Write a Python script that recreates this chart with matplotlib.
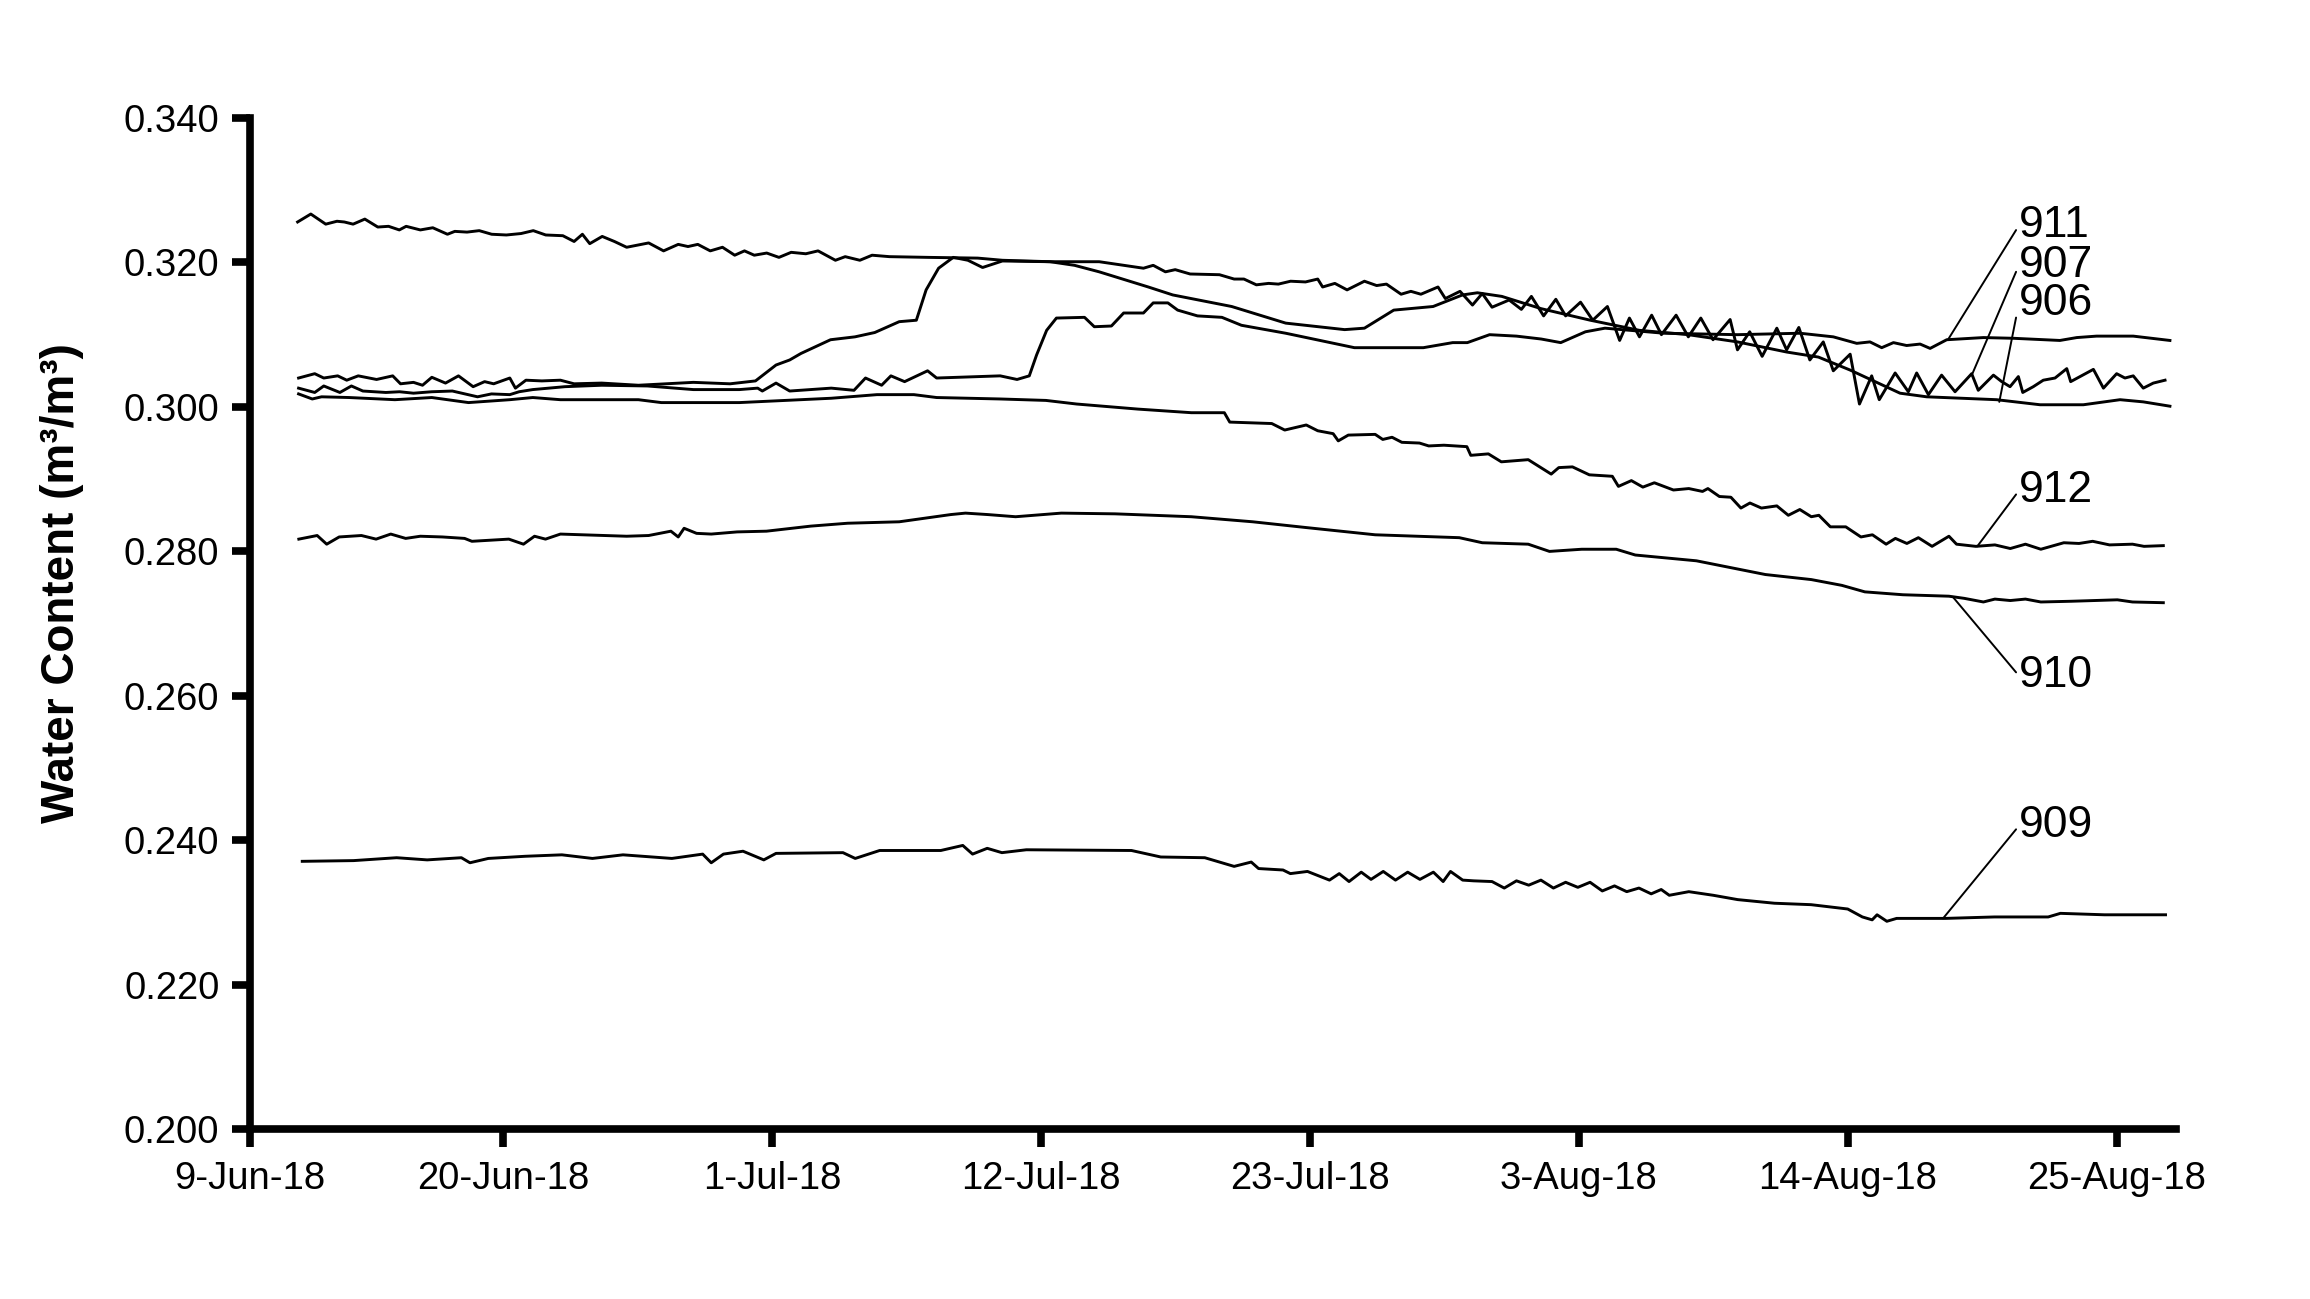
import numpy as np
import matplotlib
matplotlib.use("Agg")
import matplotlib.pyplot as plt
from matplotlib.ticker import FormatStrFormatter

plt.rcParams['font.family'] = ['Liberation Sans', 'DejaVu Sans']

# days counted from 9-Jun-18, water content in m3/m3 x 1000
day907 = [2.59, 3.13, 3.74, 4.20, 4.50, 4.86, 5.34, 5.87, 6.31, 6.75, 7.03, 7.61, 8.12, 8.72, 9.02, 9.52,
          10.02, 10.53, 11.13, 11.73, 12.23, 12.74, 13.44, 13.90, 14.24, 14.54, 15.05, 15.55, 16.05, 16.95,
          17.56, 18.16, 18.56, 18.96, 19.47, 19.97, 20.47, 20.87, 21.27, 21.78, 22.28, 22.78, 23.38, 23.88,
          24.59, 24.99, 25.59, 26.09, 26.80, 28.40, 30.41, 31.42, 33.37, 35.38, 37.19, 37.59, 38.09, 38.49,
          39.10, 40.30, 40.90, 41.30, 41.81, 42.31, 42.71, 43.21, 43.82, 44.32, 44.52, 45.02, 45.52, 46.23,
          46.73, 47.13, 47.73, 48.13, 48.54, 49.24, 49.54, 50.14, 50.65, 51.05, 51.45, 52.15, 52.65, 53.06,
          53.56, 54.06, 54.46, 55.07, 55.57, 56.17, 56.67, 57.07, 57.48, 57.98, 58.38, 58.98, 59.48, 59.99,
          60.49, 61.19, 61.49, 61.99, 62.50, 63.10, 63.50, 64.00, 64.45, 65.00, 65.41, 66.10, 66.48, 66.98,
          67.29, 67.94, 68.48, 68.82, 69.30, 69.84, 70.39, 71.07, 71.34, 71.96, 72.30, 72.64, 72.98, 73.16,
          73.59, 74.00, 74.48, 74.96, 75.12, 75.50, 76.05, 76.46, 77.00, 77.34, 77.68, 78.09, 78.50, 78.98]
wc907 = [325.6, 326.7, 325.3, 325.7, 325.6, 325.3, 326.0, 324.9, 325.0, 324.5, 325.0, 324.5, 324.8, 323.9, 324.3, 324.2,
         324.4, 323.9, 323.8, 324.0, 324.4, 323.8, 323.7, 322.9, 323.9, 322.6, 323.6, 322.9, 322.1, 322.7,
         321.6, 322.5, 322.2, 322.5, 321.6, 322.1, 321.0, 321.6, 321.0, 321.3, 320.7, 321.4, 321.2, 321.6,
         320.3, 320.8, 320.3, 321.0, 320.8, 320.7, 320.6, 320.3, 320.1, 320.1, 319.2, 319.6, 318.7, 319.0,
         318.4, 318.3, 317.7, 317.7, 316.9, 317.1, 317.0, 317.4, 317.3, 317.7, 316.6, 317.1, 316.2, 317.4,
         316.8, 317.0, 315.6, 316.0, 315.6, 316.6, 315.0, 316.0, 314.1, 315.7, 313.8, 314.8, 313.5, 315.3,
         312.6, 314.9, 312.6, 314.5, 312.0, 313.9, 309.2, 312.3, 309.7, 312.7, 310.0, 312.7, 309.7, 312.3,
         309.3, 312.1, 307.9, 310.4, 307.0, 310.9, 307.9, 311.0, 306.5, 309.0, 305.0, 307.3, 300.4, 304.3,
         301.0, 304.7, 302.1, 304.7, 301.7, 304.4, 302.1, 304.6, 302.3, 304.4, 303.5, 302.8, 304.2, 302.0,
         302.8, 303.7, 304.0, 305.3, 303.5, 304.2, 305.2, 302.6, 304.6, 304.0, 304.3, 302.6, 303.3, 303.7]

day906 = [2.63, 3.29, 3.66, 4.23, 4.60, 5.07, 5.82, 6.48, 6.80, 7.33, 7.70, 8.08, 8.64, 9.17, 9.77, 10.24,
          10.61, 11.27, 11.50, 11.93, 12.58, 13.34, 13.90, 15.03, 16.53, 18.78, 20.28, 21.32, 22.16, 22.72,
          23.18, 24.39, 25.39, 26.20, 27.20, 27.90, 28.30, 28.81, 29.41, 30.01, 30.61, 31.42, 33.37, 34.37,
          35.38, 37.39, 38.39, 40.80, 43.01, 45.42, 46.23, 47.43, 49.04, 50.24, 50.85, 51.85, 53.46, 55.47,
          57.48, 59.48, 61.49, 63.50, 64.80, 66.10, 68.14, 69.23, 72.09, 73.87, 75.64, 77.14, 78.09, 79.18]
wc906 = [304.0, 304.6, 304.0, 304.3, 303.7, 304.3, 303.8, 304.3, 303.2, 303.4, 303.0, 304.1, 303.3, 304.3, 302.8, 303.5,
         303.2, 304.0, 302.6, 303.7, 303.6, 303.7, 303.2, 303.3, 303.0, 303.4, 303.2, 303.6, 305.8, 306.5,
         307.4, 309.3, 309.7, 310.3, 311.8, 312.0, 316.2, 319.2, 320.7, 320.3, 319.3, 320.2, 320.1, 319.6,
         318.7, 316.6, 315.5, 313.9, 311.6, 310.7, 310.9, 313.4, 313.9, 315.5, 315.8, 315.3, 313.6, 312.0,
         310.6, 310.0, 309.0, 307.6, 306.9, 305.1, 301.9, 301.4, 301.0, 300.3, 300.3, 301.0, 300.7, 300.1]

day911 = [2.63, 3.29, 3.66, 4.32, 4.79, 5.26, 6.20, 6.76, 7.33, 8.08, 8.92, 9.95, 10.52, 11.27, 11.65, 12.21,
          13.52, 15.03, 16.90, 18.78, 20.66, 21.41, 21.60, 22.16, 22.72, 24.42, 25.35, 25.82, 26.48, 26.86,
          27.42, 28.36, 28.73, 31.33, 32.02, 32.52, 32.82, 33.23, 33.63, 34.78, 35.18, 35.88, 36.38, 37.19,
          37.59, 38.19, 38.59, 39.40, 40.40, 41.20, 43.01, 45.82, 48.64, 49.84, 50.44, 51.35, 52.45, 53.46,
          54.26, 55.27, 56.07, 58.48, 61.49, 64.05, 65.41, 66.37, 66.91, 67.39, 67.87, 68.41, 68.96, 69.37,
          70.05, 71.55, 72.78, 74.68, 75.37, 76.18, 77.68, 79.18]
wc911 = [302.6, 302.0, 302.9, 302.0, 302.9, 302.2, 302.0, 302.1, 301.9, 302.1, 302.2, 301.4, 301.8, 301.7, 302.1, 302.4,
         302.8, 303.0, 302.9, 302.4, 302.4, 302.6, 302.2, 303.3, 302.2, 302.6, 302.3, 304.0, 303.0, 304.3,
         303.5, 305.0, 304.0, 304.3, 303.8, 304.3, 307.2, 310.6, 312.3, 312.4, 311.1, 311.2, 313.0, 313.0,
         314.4, 314.4, 313.4, 312.6, 312.4, 311.3, 310.2, 308.2, 308.2, 308.9, 308.9, 310.0, 309.8, 309.4,
         308.9, 310.4, 310.9, 310.2, 310.0, 310.2, 309.7, 308.8, 309.0, 308.2, 308.9, 308.5, 308.7, 308.1,
         309.3, 309.6, 309.5, 309.2, 309.6, 309.8, 309.8, 309.2]

day912 = [2.63, 3.19, 3.57, 4.70, 6.57, 8.08, 9.58, 11.27, 12.21, 13.34, 16.53, 17.47, 20.66, 24.42, 26.29, 27.80,
          28.73, 31.33, 33.20, 34.46, 36.96, 39.15, 40.50, 40.72, 42.44, 42.97, 43.85, 44.32, 44.95, 45.16,
          45.57, 46.67, 46.98, 47.36, 47.76, 48.48, 48.86, 49.48, 50.42, 50.58, 51.30, 51.83, 52.93, 53.87,
          54.18, 54.74, 55.43, 56.37, 56.62, 57.15, 57.62, 58.09, 58.87, 59.50, 60.06, 60.28, 60.75, 61.22,
          61.63, 62.00, 62.47, 63.10, 63.57, 64.04, 64.51, 64.82, 65.29, 65.92, 66.54, 67.01, 67.57, 67.95,
          68.42, 68.89, 69.45, 70.14, 70.45, 71.24, 72.02, 72.65, 73.27, 73.90, 74.84, 75.46, 76.02, 76.71,
          77.65, 78.12, 78.91]
wc912 = [301.8, 301.1, 301.4, 301.3, 301.0, 301.3, 300.6, 301.0, 301.3, 301.0, 301.0, 300.6, 300.6, 301.2, 301.7, 301.7,
         301.3, 301.1, 300.9, 300.4, 299.7, 299.2, 299.2, 297.9, 297.7, 296.8, 297.5, 296.7, 296.3, 295.3,
         296.1, 296.2, 295.5, 295.8, 295.1, 295.0, 294.6, 294.7, 294.5, 293.3, 293.5, 292.4, 292.7, 290.7,
         291.6, 291.7, 290.6, 290.4, 289.0, 289.8, 288.9, 289.5, 288.5, 288.7, 288.3, 288.7, 287.6, 287.5,
         286.0, 286.7, 286.0, 286.3, 285.0, 285.8, 284.8, 285.0, 283.4, 283.4, 282.0, 282.3, 281.0, 281.8,
         281.1, 281.9, 280.7, 282.1, 281.0, 280.7, 280.9, 280.4, 281.0, 280.3, 281.2, 281.1, 281.4, 280.9,
         281.0, 280.7, 280.8]

day910 = [2.64, 3.39, 3.78, 4.29, 5.20, 5.80, 6.40, 7.01, 7.61, 8.51, 9.42, 9.72, 11.23, 11.83, 12.28, 12.73,
          13.34, 16.05, 16.95, 17.86, 18.16, 18.40, 18.91, 19.51, 20.57, 21.77, 23.58, 25.09, 27.20, 29.31,
          29.91, 30.82, 31.96, 33.83, 36.03, 39.15, 41.66, 43.85, 46.67, 50.11, 51.05, 52.93, 53.80, 55.12,
          56.53, 57.31, 59.81, 62.63, 64.51, 65.76, 66.70, 68.26, 70.14, 70.77, 71.55, 72.02, 72.65, 73.27,
          73.90, 75.15, 77.03, 77.65, 78.91]
wc910 = [281.7, 282.2, 281.0, 282.0, 282.2, 281.7, 282.4, 281.8, 282.1, 282.0, 281.8, 281.4, 281.7, 281.0, 282.1, 281.7,
         282.4, 282.1, 282.2, 282.8, 282.0, 283.2, 282.5, 282.4, 282.7, 282.8, 283.5, 283.9, 284.1, 285.1,
         285.3, 285.1, 284.8, 285.3, 285.2, 284.8, 284.1, 283.3, 282.3, 281.9, 281.2, 281.0, 280.0, 280.3,
         280.3, 279.5, 278.7, 276.8, 276.1, 275.3, 274.4, 274.0, 273.8, 273.5, 273.0, 273.4, 273.2, 273.4,
         273.0, 273.1, 273.3, 273.0, 272.9]

day909 = [2.78, 4.88, 6.64, 7.89, 9.29, 9.64, 10.39, 11.90, 13.40, 14.65, 15.90, 17.90, 19.16, 19.51, 20.01, 20.81,
          21.66, 22.16, 24.90, 25.40, 26.40, 28.90, 29.80, 30.20, 30.80, 31.40, 32.40, 36.70, 37.90, 39.70,
          40.90, 41.60, 41.90, 42.90, 43.20, 43.90, 44.80, 45.20, 45.60, 46.10, 46.50, 47.00, 47.50, 48.00,
          48.50, 49.05, 49.45, 49.75, 50.25, 50.70, 51.45, 51.95, 52.45, 52.95, 53.45, 53.96, 54.46, 54.96,
          55.46, 55.96, 56.46, 56.96, 57.46, 57.96, 58.37, 58.70, 59.50, 60.50, 61.50, 63.00, 64.50, 66.00,
          66.60, 67.00, 67.20, 67.60, 68.00, 70.00, 72.00, 74.20, 74.70, 76.50, 79.00]
wc909 = [237.1, 237.2, 237.6, 237.3, 237.6, 236.9, 237.5, 237.8, 238.0, 237.5, 238.0, 237.5, 238.1, 236.9, 238.1, 238.5,
         237.3, 238.2, 238.3, 237.5, 238.6, 238.6, 239.3, 238.1, 238.9, 238.3, 238.7, 238.6, 237.7, 237.6,
         236.4, 237.0, 236.1, 235.9, 235.4, 235.7, 234.5, 235.4, 234.3, 235.6, 234.6, 235.7, 234.5, 235.6,
         234.6, 235.6, 234.3, 235.7, 234.5, 234.4, 234.3, 233.4, 234.4, 233.8, 234.5, 233.4, 234.2, 233.5,
         234.2, 233.0, 233.7, 232.9, 233.4, 232.6, 233.2, 232.4, 232.9, 232.4, 231.8, 231.3, 231.1, 230.5,
         229.4, 229.0, 229.7, 228.8, 229.2, 229.2, 229.4, 229.4, 229.9, 229.7, 229.7]

series_days = [day907, day906, day911, day912, day910, day909]
series_wc = [wc907, wc906, wc911, wc912, wc910, wc909]

# sensor labels and their leader lines
labels = ['911', '907', '906', '912', '910', '909']
label_day = [73.0, 73.0, 73.0, 73.0, 73.0, 73.0]
label_wc = [325.1, 319.6, 314.3, 288.4, 262.8, 242.0]
tip_day = [70.1, 71.1, 72.2, 71.3, 70.3, 69.9]
tip_wc = [309.3, 304.6, 300.7, 280.7, 273.7, 229.2]

tick_days = [0.64, 11, 22, 33, 44, 55, 66, 77]
tick_labels = ['9-Jun-18', '20-Jun-18', '1-Jul-18', '12-Jul-18', '23-Jul-18', '3-Aug-18', '14-Aug-18', '25-Aug-18']

fig = plt.figure(figsize=(23.1, 12.99), dpi=100)
ax = fig.add_axes([0.1082, 0.1306, 0.8337, 0.7786])

for d, w in zip(series_days, series_wc):
    ax.plot(d, np.array(w) / 1000, color='black', lw=2.1)

for lab, ld, lw_, td, tw in zip(labels, label_day, label_wc, tip_day, tip_wc):
    ax.annotate(lab, xy=(td, tw / 1000), xytext=(ld, lw_ / 1000), fontsize=32,
                ha='left', va='center',
                arrowprops=dict(arrowstyle='-', lw=1.4, color='black', shrinkA=0, shrinkB=0,
                                relpos=(0, 0.5)))

ax.set_xlim(0.64, 79.42)
ax.set_ylim(0.2, 0.34)
ax.set_xticks(tick_days)
ax.set_xticklabels(tick_labels)
ax.set_yticks(np.arange(0.2, 0.3401, 0.02))
ax.yaxis.set_major_formatter(FormatStrFormatter('%.3f'))

for s in ['top', 'right']:
    ax.spines[s].set_visible(False)
for s in ['left', 'bottom']:
    ax.spines[s].set_linewidth(5.5)
ax.tick_params(axis='both', length=13, width=5.5, labelsize=27.5, direction='out')
ax.tick_params(axis='x', pad=10)
ax.tick_params(axis='y', pad=9)

ax.set_ylabel('Water Content (m³/m³)', fontsize=33, fontweight='bold')
ax.yaxis.set_label_coords(-0.086, 0.54)

fig.savefig('out.png', dpi=100)
